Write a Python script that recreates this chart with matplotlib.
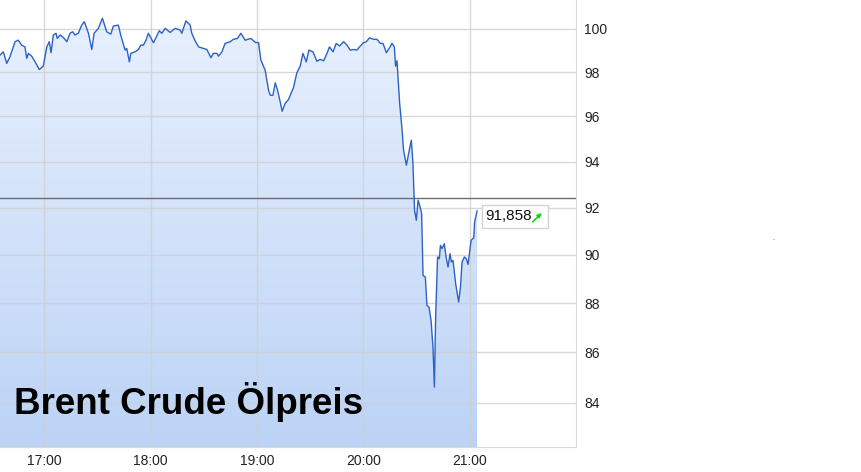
import numpy as np
import matplotlib
matplotlib.use('Agg')
import matplotlib.pyplot as plt
from matplotlib.colors import LinearSegmentedColormap
from matplotlib.patches import Rectangle, FancyArrowPatch
from matplotlib.ticker import NullLocator
from matplotlib.transforms import IdentityTransform

# minutes after 16:00
minutes = [
    35.0, 36.9, 38.8, 40.6, 43.5, 45.3, 47.2, 49.1, 50.1, 51.0,
    52.9, 54.8, 57.2, 59.4, 61.4, 62.8, 63.8, 65.1, 66.6, 67.3,
    68.9, 70.7, 72.7, 74.5, 76.0, 77.3, 79.2, 81.1, 82.6, 84.9,
    86.8, 88.1, 90.5, 92.8, 95.2, 97.5, 99.0, 101.8, 103.1, 105.6,
    106.5, 108.0, 108.8, 111.2, 113.1, 114.4, 115.9, 117.4, 118.7, 121.6,
    124.9, 126.3, 128.2, 131.0, 133.8, 136.6, 137.6, 139.9, 142.3, 143.2,
    145.1, 147.0, 149.8, 151.7, 154.0, 155.4, 157.4, 158.3, 160.2, 162.0,
    164.9, 166.7, 169.0, 170.9, 173.3, 176.6, 179.0, 180.9, 182.2, 184.6,
    186.5, 187.5, 189.0, 190.3, 191.6, 193.1, 194.2, 195.9, 197.8, 200.6,
    202.5, 204.4, 205.9, 207.8, 209.3, 211.6, 213.8, 215.7, 217.6, 219.5,
    220.9, 222.9, 224.7, 226.6, 228.9, 230.8, 232.6, 234.5, 236.4, 238.3,
    240.1, 241.7, 243.5, 245.8, 247.7, 249.6, 251.1, 253.0, 254.8, 256.2,
    257.5, 258.2, 259.0, 260.5, 261.8, 262.7, 264.3, 266.1, 267.1, 268.0,
    268.9, 269.9, 270.9, 271.8, 272.9, 273.7, 275.0, 275.9, 277.1, 278.2,
    279.3, 280.1, 280.8, 281.9, 282.9, 283.5, 284.4, 285.7, 286.7, 287.8,
    288.9, 289.7, 290.6, 292.1, 293.8, 294.8, 295.7, 297.0, 298.1, 299.1,
    300.8, 302.3, 302.8, 304.2,
]
price = [
    98.78, 98.93, 98.40, 98.70, 99.40, 99.47, 99.24, 99.16, 98.63, 98.86,
    98.73, 98.47, 98.12, 98.27, 99.16, 99.40, 98.89, 99.71, 99.79, 99.55,
    99.71, 99.60, 99.40, 99.79, 99.86, 99.71, 99.79, 100.17, 100.33, 99.79,
    99.04, 99.79, 100.02, 100.49, 99.86, 99.75, 100.13, 100.17, 99.71, 99.01,
    99.09, 98.47, 98.86, 98.93, 99.04, 99.24, 99.24, 99.47, 99.79, 99.35,
    99.91, 99.79, 100.02, 99.83, 100.02, 99.94, 99.79, 100.37, 100.17, 99.79,
    99.44, 99.16, 99.09, 99.04, 98.66, 98.86, 98.86, 98.73, 98.93, 99.32,
    99.40, 99.51, 99.55, 99.79, 99.47, 99.55, 99.37, 99.35, 98.55, 98.09,
    97.18, 96.95, 96.95, 97.51, 97.18, 96.65, 96.23, 96.58, 96.76, 97.30,
    97.97, 98.28, 98.86, 98.47, 99.01, 98.93, 98.50, 98.58, 98.52, 98.86,
    99.16, 98.93, 99.32, 99.20, 99.40, 99.24, 99.01, 99.04, 99.01, 99.20,
    99.35, 99.40, 99.58, 99.51, 99.51, 99.32, 99.32, 98.89, 99.12, 99.32,
    99.16, 98.27, 98.52, 96.58, 95.45, 94.50, 93.84, 94.57, 94.94, 93.91,
    91.89, 91.46, 92.32, 92.10, 91.75, 89.14, 89.07, 87.90, 87.83, 87.29,
    86.21, 84.62, 87.42, 89.91, 89.84, 90.40, 90.26, 90.47, 89.91, 89.49,
    90.05, 89.70, 89.77, 88.80, 88.04, 88.66, 89.70, 89.91, 89.84, 89.60,
    90.61, 90.72, 91.39, 91.858,
]
prev_close = 92.43
y_ticks = [84, 86, 88, 90, 92, 94, 96, 98, 100]
x_ticks = [60, 120, 180, 240, 300]
x_labels = ['17:00', '18:00', '19:00', '20:00', '21:00']
title = 'Brent Crude Ölpreis'

plt.rcParams['font.family'] = ['Liberation Sans', 'DejaVu Sans']

fig = plt.figure(figsize=(8.62, 4.72), dpi=100)
ax = fig.add_axes([0, 25 / 472, 576 / 862, 447 / 472])
ax.set_yscale('log')
ymin, ymax = 82.29, 101.35

# gradient area under the line
fill = ax.fill_between(minutes, price, ymin, facecolor='none', edgecolor='none')
grad = np.linspace(0, 1, 256).reshape(-1, 1)
cmap = LinearSegmentedColormap.from_list('bg', ['#e9f1fd', '#bcd3f6'])
im = ax.imshow(grad, cmap=cmap, aspect='auto', extent=[0, 1, 0, 1],
               transform=ax.transAxes, origin='upper', zorder=1)
im.set_clip_path(fill.get_paths()[0], transform=ax.transData)

ax.plot(minutes, price, color='#2d62c4', lw=1.0, zorder=3)
ax.axhline(prev_close, color='#6e6e6e', lw=1, zorder=2.5)

ax.set_xlim(35, 360)
ax.set_ylim(ymin, ymax)
ax.set_yticks(y_ticks, [str(v) for v in y_ticks])
ax.yaxis.set_minor_locator(NullLocator())
ax.yaxis.tick_right()
ax.set_xticks(x_ticks, x_labels)
ax.grid(True, color='#cfcfcf', lw=1, alpha=0.8)
ax.tick_params(length=0, labelsize=10, labelcolor='#222222')
ax.tick_params(axis='y', pad=6)
ax.tick_params(axis='x', pad=5)
for s in ['left', 'top']:
    ax.spines[s].set_visible(False)
for s in ['right', 'bottom']:
    ax.spines[s].set_color('#d9d9d9')

fig.text(14 / 862, 1 - 414 / 472, title, fontsize=26.5, fontweight='bold',
         va='baseline', color='black')

# last value box
x0, y0 = ax.transData.transform((minutes[-1], price[-1]))
fig.add_artist(Rectangle((x0 + 4.5, y0 - 17), 66, 23, transform=IdentityTransform(),
                         facecolor='white', edgecolor='#d4d4d4', lw=1))
fig.text(x0 + 8.5, y0 - 5.5, f'{price[-1]:.3f}'.replace('.', ','),
         transform=IdentityTransform(), va='center', fontsize=11, color='#111111')
fig.add_artist(FancyArrowPatch((x0 + 55.5, y0 - 11), (x0 + 64.5, y0 - 2),
                               arrowstyle='-|>', mutation_scale=6, color='#00dd00',
                               lw=1.1, shrinkA=0, shrinkB=0,
                               transform=IdentityTransform()))

fig.text(772 / 862, 1 - 240 / 472, '.', fontsize=5, color='#333333')

fig.savefig('out.png', dpi=100)
